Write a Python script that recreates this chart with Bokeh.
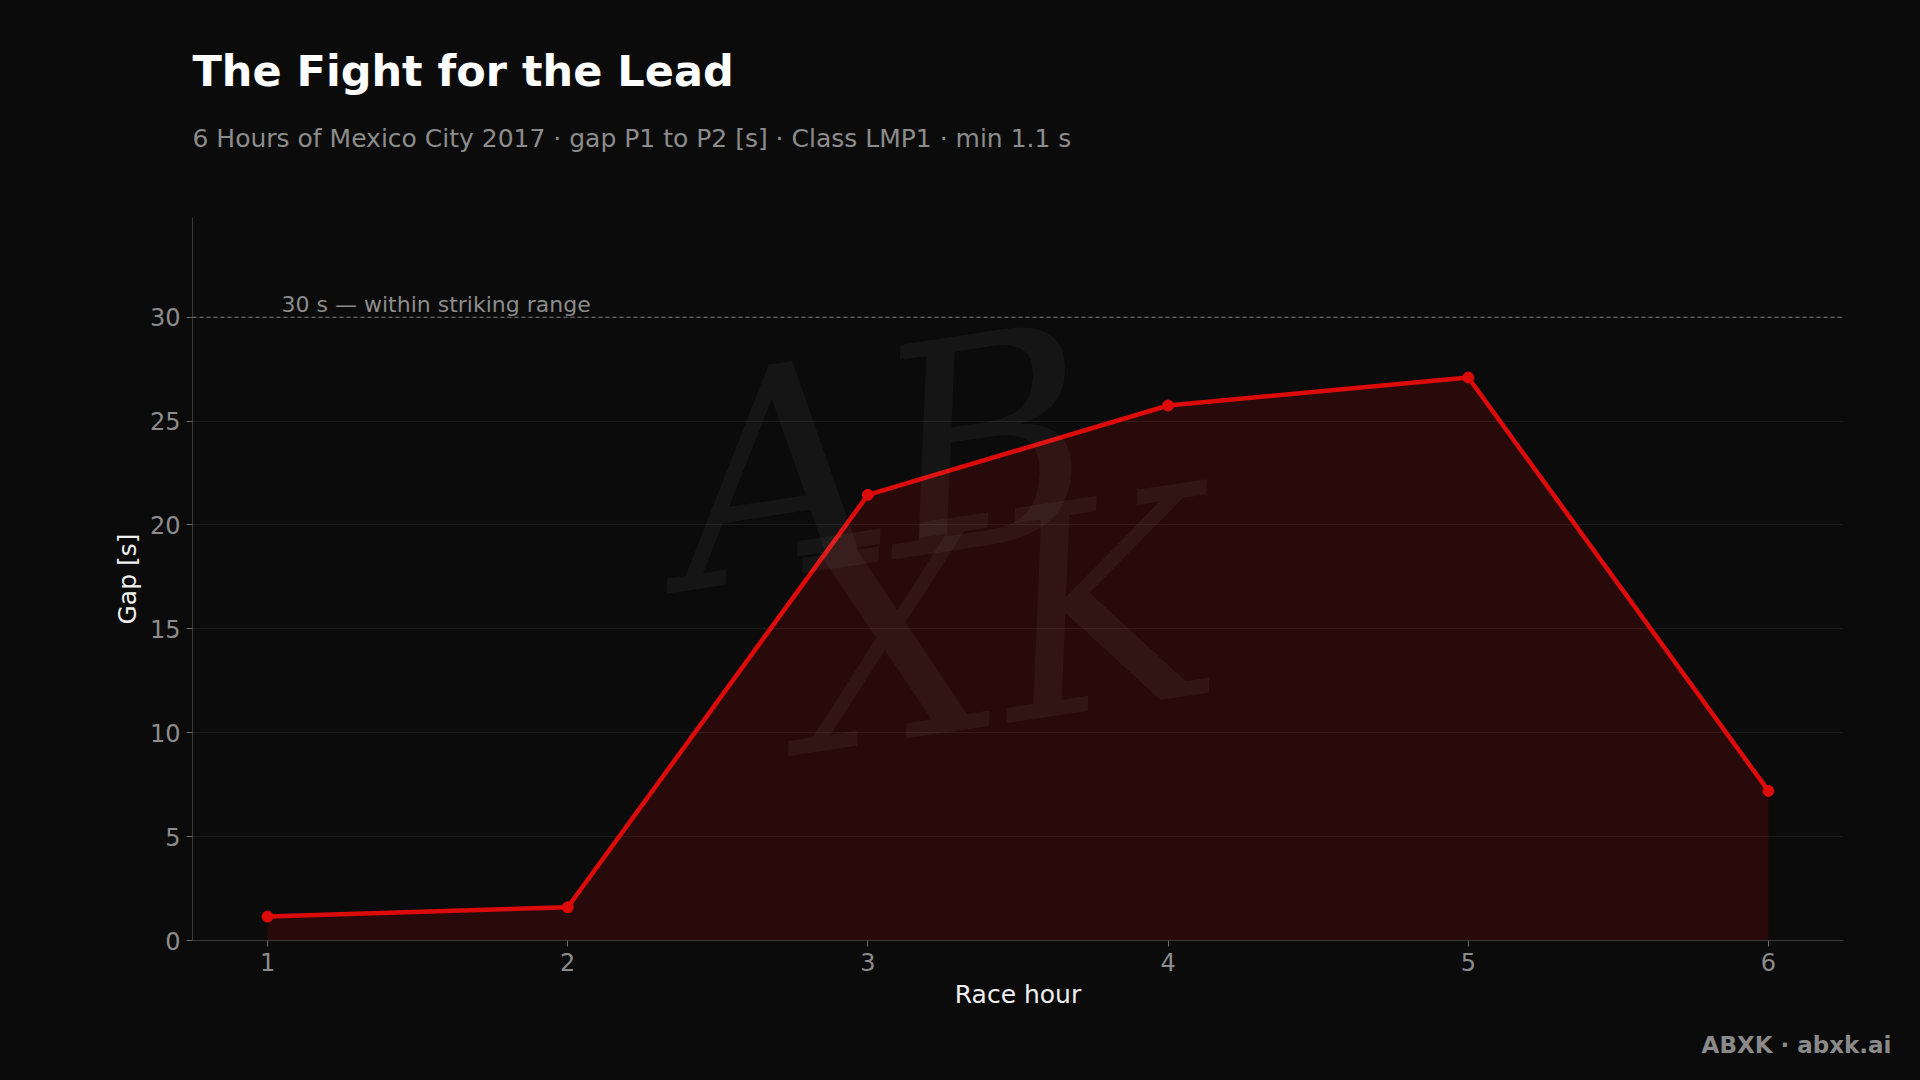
from bokeh.plotting import figure
from bokeh.models import Range1d, FixedTicker, Span, Label, Title
from bokeh.embed import file_html
from bokeh.resources import INLINE

# ---- data ----
hours = [1, 2, 3, 4, 5, 6]
gap_s = [1.15, 1.6, 21.45, 25.75, 27.1, 7.2]
y_ticks = [0, 5, 10, 15, 20, 25, 30]
x_ticks = [1, 2, 3, 4, 5, 6]
threshold = 30

title_text = "The Fight for the Lead"
subtitle_text = "6 Hours of Mexico City 2017 \u00b7 gap P1 to P2 [s] \u00b7 Class LMP1 \u00b7 min 1.1 s"
threshold_text = "30 s \u2014 within striking range"
footer_text = "ABXK \u00b7 abxk.ai"

# ---- layout ----
W, H = 1920, 1080
BL, BR, BT, BB = 192, 77, 217, 140
FW, FH = W - BL - BR, H - BT - BB
X0, X1 = 0.75, 6.25
Y0, Y1 = 0.0, 34.8

BG = "#0b0b0b"
RED = "#dd0a0a"
FONT = "DejaVu Sans"


def px_to_x(px):
    return X0 + (px - BL) * (X1 - X0) / FW


def px_to_y(py):
    return Y0 + (BT + FH - py) * (Y1 - Y0) / FH


p = figure(width=W, height=H, output_backend="svg", toolbar_location=None,
           x_range=Range1d(X0, X1), y_range=Range1d(Y0, Y1),
           min_border_left=BL, min_border_right=BR,
           min_border_top=BT, min_border_bottom=BB)
p.background_fill_color = BG
p.border_fill_color = BG
p.outline_line_color = None

p.xgrid.grid_line_color = None
p.ygrid.grid_line_color = "#1c1c1c"
p.ygrid.grid_line_width = 1
p.ygrid.ticker = FixedTicker(ticks=y_ticks)

for ax in (p.xaxis[0], p.yaxis[0]):
    ax.axis_line_color = "#3a3a3a"
    ax.major_tick_line_color = "#6a6a6a"
    ax.major_tick_out = 6
    ax.major_tick_in = 0
    ax.minor_tick_line_color = None
    ax.major_label_text_color = "#8c8c8c"
    ax.major_label_text_font = FONT
    ax.major_label_text_font_size = "24px"
    ax.major_label_standoff = 6
    ax.axis_label_text_color = "#f0f0f0"
    ax.axis_label_text_font = FONT
    ax.axis_label_text_font_size = "25px"
    ax.axis_label_text_font_style = "normal"

p.xaxis.ticker = FixedTicker(ticks=x_ticks)
p.yaxis.ticker = FixedTicker(ticks=y_ticks)
p.xaxis.axis_label = "Race hour"
p.yaxis.axis_label = "Gap [s]"
p.xaxis.axis_label_standoff = 6
p.yaxis.axis_label_standoff = 5

# watermark (faint)
p.add_layout(Label(x=px_to_x(882), y=px_to_y(459), text="AB", text_font="DejaVu Serif",
                   text_font_style="italic", text_font_size="290px", text_color="#ffffff",
                   text_alpha=0.045, text_align="center", text_baseline="middle", angle=0.15))
p.add_layout(Label(x=px_to_x(1000), y=px_to_y(622), text="XK", text_font="DejaVu Serif",
                   text_font_style="italic", text_font_size="290px", text_color="#ffffff",
                   text_alpha=0.045, text_align="center", text_baseline="middle", angle=0.15))

# area + line + markers
p.varea(x=hours, y1=0, y2=gap_s, fill_color=RED, fill_alpha=0.14)
p.line(hours, gap_s, line_color=RED, line_width=4.5)
p.scatter(hours, gap_s, size=11, fill_color=RED, line_color=RED)

# threshold
p.add_layout(Span(location=threshold, dimension="width", line_color="#7a7a7a",
                  line_width=1, line_dash="4 3"))
p.add_layout(Label(x=hours[0], y=threshold, x_offset=14, y_offset=0, text=threshold_text,
                   text_font=FONT, text_font_size="22px", text_color="#8c8c8c",
                   text_baseline="bottom"))

# spacer panel (closest to frame), then subtitle, then title on top
p.add_layout(Title(text="\u200b", text_font=FONT, text_font_size="1px", text_color=BG,
                   standoff=52), "above")
p.add_layout(Title(text=subtitle_text, text_font=FONT, text_font_size="25px",
                   text_font_style="normal", text_color="#8c8c8c", align="left",
                   offset=0, standoff=20), "above")
p.add_layout(Title(text=title_text, text_font=FONT, text_font_size="43px",
                   text_font_style="bold", text_color="#ffffff", align="left",
                   offset=0, standoff=31), "above")
# footer
p.add_layout(Title(text=footer_text, text_font=FONT, text_font_size="23px",
                   text_font_style="bold", text_color="#8a8a8a", align="right",
                   offset=-48, standoff=36), "below")

html = file_html(p, INLINE)
html = html.replace("</head>",
                    "<style>html,body{background:#0b0b0b !important;}</style></head>", 1)
open("out.html", "w").write(html)
